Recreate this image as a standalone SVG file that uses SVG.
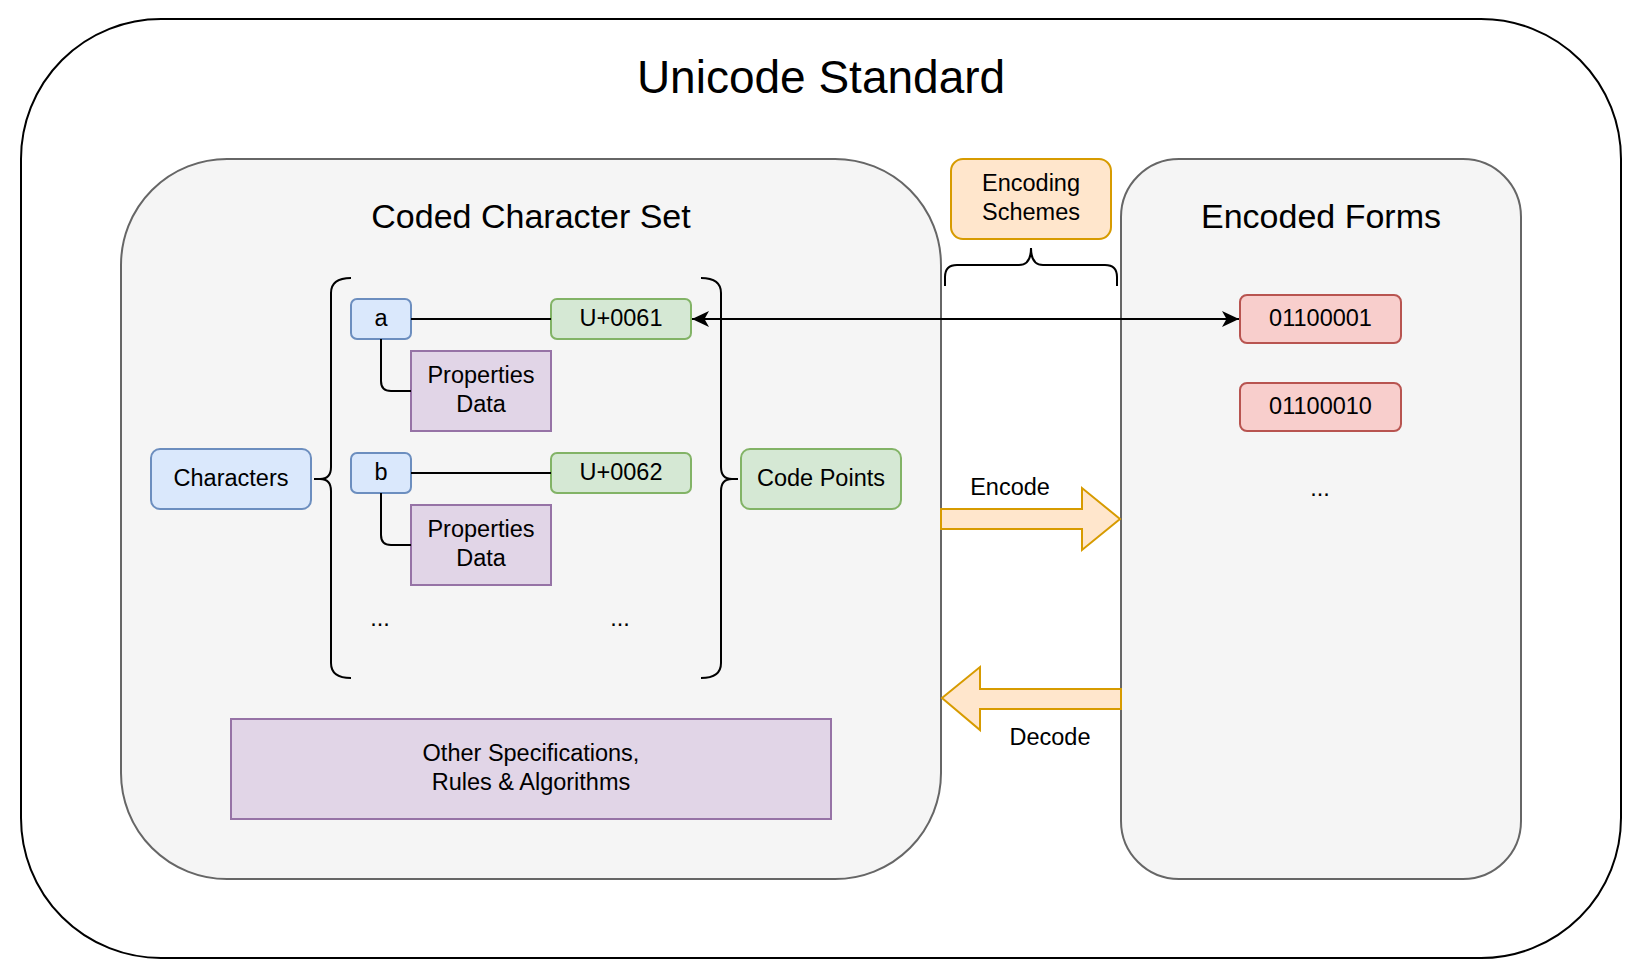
<svg xmlns="http://www.w3.org/2000/svg" width="1640" height="976" viewBox="0 0 1640 976">
<style>
text{font-family:"Liberation Sans",Arial,Helvetica,sans-serif;fill:#000;text-anchor:middle}
.lbl{font-size:23.5px}
.sec{font-size:34px}
.ttl{font-size:46px}
.blue{fill:#dae8fc;stroke:#6c8ebf;stroke-width:2}
.green{fill:#d5e8d4;stroke:#82b366;stroke-width:2}
.purple{fill:#e1d5e7;stroke:#9673a6;stroke-width:2}
.red{fill:#f8cecc;stroke:#b85450;stroke-width:2}
.orange{fill:#ffe6cc;stroke:#d79b00;stroke-width:2}
.cont{fill:#f5f5f5;stroke:#666666;stroke-width:2}
.line{fill:none;stroke:#000;stroke-width:2}
</style>
<defs>
<marker id="arr" viewBox="0 0 20 20" refX="18" refY="10" markerWidth="20" markerHeight="20" markerUnits="userSpaceOnUse" orient="auto-start-reverse">
<path d="M18,10 L1,2 L5.5,10 L1,18 Z" fill="#000"/>
</marker>
</defs>
<rect width="1640" height="976" fill="#fff"/>
<g id="unicode-standard">
<rect x="21" y="19" width="1600" height="939" rx="140" ry="140" fill="#fff" stroke="#000" stroke-width="2"/>
<text class="ttl" x="821" y="93">Unicode Standard</text>
</g>
<g id="coded-character-set">
<rect class="cont" x="121" y="159" width="820" height="720" rx="106" ry="106"/>
<text class="sec" x="531" y="228">Coded Character Set</text>
</g>
<g id="encoded-forms">
<rect class="cont" x="1121" y="159" width="400" height="720" rx="58" ry="58"/>
<text class="sec" x="1321" y="228">Encoded Forms</text>
</g>
<g id="encoding-schemes">
<rect class="orange" x="951" y="159" width="160" height="80" rx="12" ry="12"/>
<text class="lbl" x="1031" y="191">Encoding</text>
<text class="lbl" x="1031" y="220">Schemes</text>
</g>
<g id="brace-schemes">
<path class="line" d="M945,286 L945,277 Q945,265 957,265 L1019,265 Q1031,265 1031,248 Q1031,265 1043,265 L1105,265 Q1117,265 1117,277 L1117,286"/>
</g>
<g id="characters">
<rect class="blue" x="151" y="449" width="160" height="60" rx="9" ry="9"/>
<text class="lbl" x="231" y="486">Characters</text>
</g>
<g id="brace-left">
<path class="line" d="M351,278 Q331,278 331,293 L331,467 Q331,479 320,479 L314,479 L320,479 Q331,479 331,491 L331,663 Q331,678 351,678"/>
</g>
<g id="brace-right">
<path class="line" d="M701,278 Q721,278 721,293 L721,467 Q721,479 732,479 L738,479 L732,479 Q721,479 721,491 L721,663 Q721,678 701,678"/>
</g>
<g id="code-points">
<rect class="green" x="741" y="449" width="160" height="60" rx="9" ry="9"/>
<text class="lbl" x="821" y="486">Code Points</text>
</g>
<g id="char-a">
<rect class="blue" x="351" y="299" width="60" height="40" rx="6" ry="6"/>
<text class="lbl" x="381" y="326">a</text>
</g>
<g id="cp-0061">
<rect class="green" x="551" y="299" width="140" height="40" rx="6" ry="6"/>
<text class="lbl" x="621" y="326">U+0061</text>
</g>
<g id="props-a">
<rect class="purple" x="411" y="351" width="140" height="80"/>
<text class="lbl" x="481" y="383">Properties</text>
<text class="lbl" x="481" y="412">Data</text>
</g>
<g id="char-b">
<rect class="blue" x="351" y="453" width="60" height="40" rx="6" ry="6"/>
<text class="lbl" x="381" y="480">b</text>
</g>
<g id="cp-0062">
<rect class="green" x="551" y="453" width="140" height="40" rx="6" ry="6"/>
<text class="lbl" x="621" y="480">U+0062</text>
</g>
<g id="props-b">
<rect class="purple" x="411" y="505" width="140" height="80"/>
<text class="lbl" x="481" y="537">Properties</text>
<text class="lbl" x="481" y="566">Data</text>
</g>
<g id="dots-chars"><text class="lbl" x="380" y="626">...</text></g>
<g id="dots-cps"><text class="lbl" x="620" y="626">...</text></g>
<g id="other-specs">
<rect class="purple" x="231" y="719" width="600" height="100"/>
<text class="lbl" x="531" y="761">Other Specifications,</text>
<text class="lbl" x="531" y="790">Rules &amp; Algorithms</text>
</g>
<g id="ef-01100001">
<rect class="red" x="1240" y="295" width="161" height="48" rx="7" ry="7"/>
<text class="lbl" x="1320.5" y="326">01100001</text>
</g>
<g id="ef-01100010">
<rect class="red" x="1240" y="383" width="161" height="48" rx="7" ry="7"/>
<text class="lbl" x="1320.5" y="414">01100010</text>
</g>
<g id="dots-ef"><text class="lbl" x="1320" y="496">...</text></g>
<g id="connectors">
<path class="line" d="M411,319 L551,319"/>
<path class="line" d="M411,473 L551,473"/>
<path class="line" d="M381,339 L381,381 Q381,391 391,391 L411,391"/>
<path class="line" d="M381,493 L381,535 Q381,545 391,545 L411,545"/>
<path class="line" d="M692,319 L1239,319" marker-start="url(#arr)" marker-end="url(#arr)"/>
<polygon class="orange" points="941,509 1082,509 1082,488 1120,519 1082,550 1082,529 941,529"/>
<text class="lbl" x="1010" y="495">Encode</text>
<polygon class="orange" points="1121,689 980,689 980,667 942,698 980,730 980,709 1121,709"/>
<text class="lbl" x="1050" y="745">Decode</text>
</g>
</svg>
